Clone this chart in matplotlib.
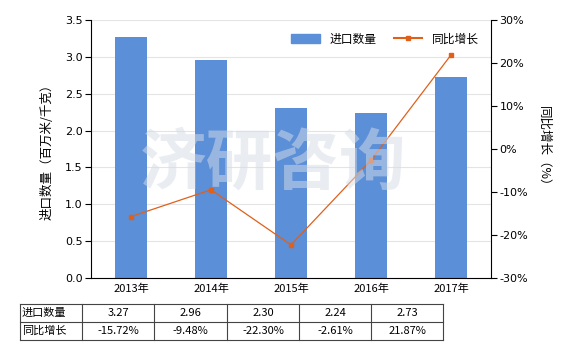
import matplotlib
matplotlib.use("Agg")
import matplotlib.pyplot as plt
from matplotlib.patches import Rectangle
from matplotlib.lines import Line2D

plt.rcParams['font.family'] = ['Noto Sans CJK SC', 'DejaVu Sans']

years = ["2013年", "2014年", "2015年", "2016年", "2017年"]
volume = [3.27, 2.96, 2.30, 2.24, 2.73]
growth = [-15.72, -9.48, -22.30, -2.61, 21.87]
volume_labels = ["3.27", "2.96", "2.30", "2.24", "2.73"]
growth_labels = ["-15.72%", "-9.48%", "-22.30%", "-2.61%", "21.87%"]
left_ticks = [0.0, 0.5, 1.0, 1.5, 2.0, 2.5, 3.0, 3.5]
right_ticks = [-30, -20, -10, 0, 10, 20, 30]

W, H = 580, 350
fig = plt.figure(figsize=(W/100, H/100), dpi=100)
ax = fig.add_axes([91/W, 1-278/H, 400/W, 258/H])
x = list(range(len(years)))
bar_color = "#5B8FD8"
line_color = "#E0601A"
ax.bar(x, volume, width=0.4, color=bar_color, zorder=2, label="进口数量")
ax.set_xlim(-0.5, 4.5)
ax.set_ylim(0, 3.5)
ax.set_yticks(left_ticks)
ax.set_yticklabels([f"{t:.1f}" for t in left_ticks], fontsize=8, family=['DejaVu Sans'])
ax.set_xticks(x)
ax.set_xticklabels(years, fontsize=8)
ax.grid(axis='y', color="#e4e4e4", linewidth=0.8, zorder=0)
for s in ["top", "right"]:
    ax.spines[s].set_visible(False)
ax.spines["left"].set_color("black")
ax.spines["bottom"].set_color("black")
ax.tick_params(axis='y', length=4, width=0.8, pad=2)
ax.tick_params(axis='x', length=0, pad=4)
ax.set_ylabel("进口数量（百万米/千克）", fontsize=9, labelpad=8)

ax2 = ax.twinx()
ax2.plot(x, growth, color=line_color, linewidth=0.9, marker='s', markersize=3.5, zorder=3, label="同比增长")
ax2.set_ylim(-30, 30)
ax2.set_yticks(right_ticks)
ax2.set_yticklabels([f"{t}%" for t in right_ticks], fontsize=8, family=['DejaVu Sans'])
for s in ["top", "left", "bottom"]:
    ax2.spines[s].set_visible(False)
ax2.spines["right"].set_color("black")
ax2.tick_params(axis='y', length=4, width=0.8, pad=2)
ax2.set_ylabel("同比增长（%）", fontsize=9, rotation=270, labelpad=16)

# watermark
fig.text(0.47, 0.53, "济研咨询", fontsize=48, color="#d5dde6", alpha=0.5,
         fontweight='bold', ha='center', va='center', zorder=0)

# legend
handles = [Rectangle((0, 0), 1, 1, color=bar_color),
           Line2D([0], [0], color=line_color, marker='s', markersize=3.5, linewidth=1.5)]
fig.legend(handles, ["进口数量", "同比增长"], loc='center', bbox_to_anchor=(385/W, 1-39/H),
           ncol=2, frameon=False, fontsize=8.5, handlelength=2.4, columnspacing=1.5)

# table
cols = [20, 82, 154, 227, 299, 371, 443]
rows = [304, 322, 340]
lc = "#444444"
for yy in rows:
    fig.add_artist(Line2D([cols[0]/W, cols[-1]/W], [1-yy/H, 1-yy/H], color=lc, linewidth=0.8))
for xx in cols:
    fig.add_artist(Line2D([xx/W, xx/W], [1-rows[0]/H, 1-rows[-1]/H], color=lc, linewidth=0.8))
row_names = ["进口数量", "同比增长"]
row_vals = [volume_labels, growth_labels]
for r in range(2):
    yc = 1 - (rows[r] + rows[r+1]) / 2 / H
    fig.text((cols[0] + 2)/W, yc, row_names[r], fontsize=8, ha='left', va='center')
    for c in range(5):
        xc = (cols[c+1] + cols[c+2]) / 2 / W
        fig.text(xc, yc, row_vals[r][c], fontsize=8, ha='center', va='center')

fig.savefig("out.png", dpi=100)
